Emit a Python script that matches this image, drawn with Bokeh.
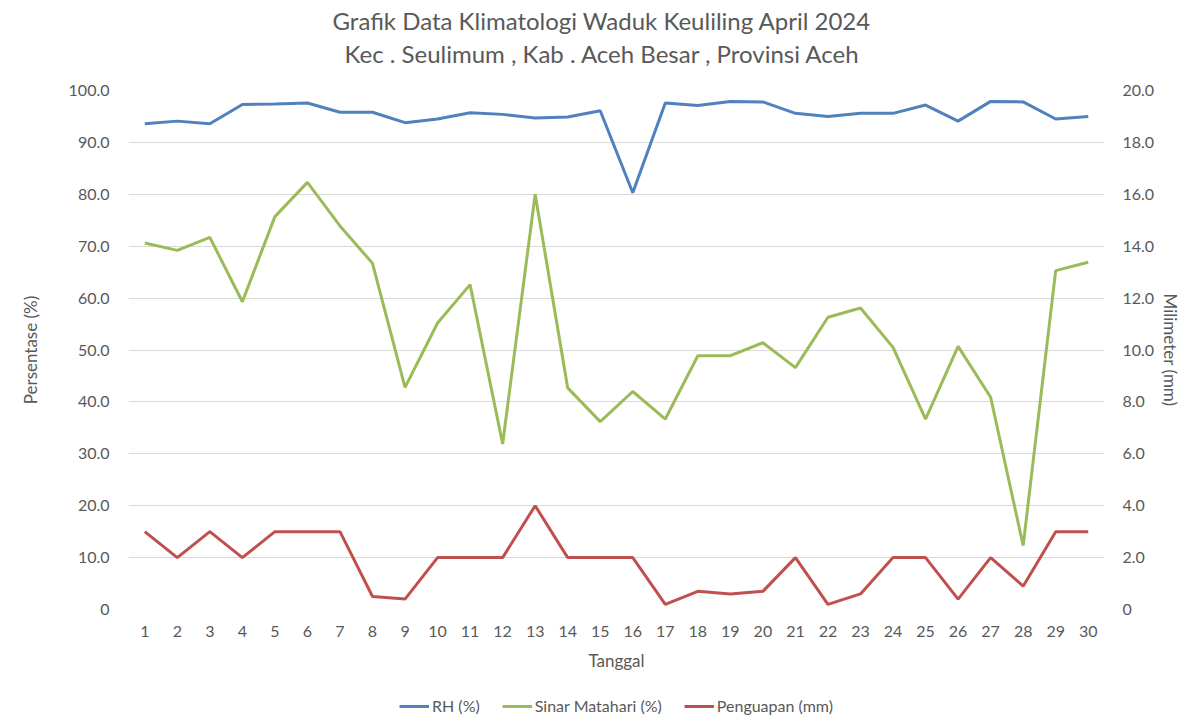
from bokeh.plotting import figure
from bokeh.layouts import column
from bokeh.models import (Range1d, LinearAxis, FixedTicker, CustomJSTickFormatter,
                          Title, Legend, LegendItem, ColumnDataSource)
from bokeh.embed import file_html
from bokeh.resources import INLINE

# ---- data ----
days = list(range(1, 31))
rh = [93.6, 94.1, 93.6, 97.3, 97.4, 97.6, 95.8, 95.8, 93.8, 94.5,
      95.7, 95.4, 94.7, 94.9, 96.1, 80.3, 97.6, 97.1, 97.9, 97.8,
      95.6, 95.0, 95.6, 95.6, 97.2, 94.1, 97.9, 97.8, 94.5, 95.0]
sinar = [70.6, 69.2, 71.7, 59.3, 75.7, 82.3, 73.9, 66.7, 42.8, 55.2,
         62.6, 31.9, 80.0, 42.7, 36.2, 42.0, 36.7, 48.9, 48.9, 51.4,
         46.6, 56.3, 58.1, 50.5, 36.7, 50.7, 40.9, 12.3, 65.3, 66.9]
penguapan = [3.0, 2.0, 3.0, 2.0, 3.0, 3.0, 3.0, 0.5, 0.4, 2.0,
             2.0, 2.0, 4.0, 2.0, 2.0, 2.0, 0.2, 0.7, 0.6, 0.7,
             2.0, 0.2, 0.6, 2.0, 2.0, 0.4, 2.0, 0.9, 3.0, 3.0]
left_ticks = [0, 10, 20, 30, 40, 50, 60, 70, 80, 90, 100]
right_ticks = [0, 2, 4, 6, 8, 10, 12, 14, 16, 18, 20]
title_line1 = "Grafik Data Klimatologi Waduk Keuliling April 2024"
title_line2 = "Kec . Seulimum , Kab . Aceh Besar , Provinsi  Aceh"
series_names = ["RH (%)", "Sinar Matahari (%)", "Penguapan (mm)"]

FONT = "Lato"
TXT = "#595959"
GRID = "#D9D9D9"
C_RH = "#4F81BD"
C_SI = "#9BBB59"
C_PE = "#C0504D"

src = ColumnDataSource(dict(day=days, rh=rh, sinar=sinar, pen=penguapan))

p = figure(width=1200, height=690, output_backend="svg", toolbar_location=None,
           x_range=Range1d(0.5, 30.5), y_range=Range1d(0, 100),
           min_border_left=128, min_border_right=96, min_border_top=90,
           min_border_bottom=81, background_fill_color="white",
           border_fill_color="white", outline_line_color=None)
p.extra_y_ranges = {"mm": Range1d(0, 20)}

fmt = CustomJSTickFormatter(code="return tick == 0 ? '0' : tick.toFixed(1);")

# x axis (bottom)
xa = p.xaxis[0]
xa.ticker = FixedTicker(ticks=days)
xa.axis_label = "Tanggal"
xa.axis_line_color = None
xa.major_tick_line_color = None
xa.minor_tick_line_color = None
xa.major_tick_out = 0
xa.major_tick_in = 0
xa.minor_tick_out = 0
xa.major_label_standoff = 16
xa.axis_label_standoff = 10
xa.major_label_text_font = FONT
xa.major_label_text_font_size = "16px"
xa.major_label_text_color = TXT
xa.axis_label_text_font = FONT
xa.axis_label_text_font_size = "17px"
xa.axis_label_text_font_style = "normal"
xa.axis_label_text_color = TXT

# left axis
ya = p.yaxis[0]
ya.ticker = FixedTicker(ticks=left_ticks)
ya.formatter = fmt
ya.axis_label = "Persentase (%)"

# right axis
ra = LinearAxis(y_range_name="mm", ticker=FixedTicker(ticks=right_ticks),
                formatter=fmt, axis_label="Milimeter (mm)")
p.add_layout(ra, "right")

for ax in (ya, ra):
    ax.axis_line_color = None
    ax.major_tick_line_color = None
    ax.minor_tick_line_color = None
    ax.major_tick_out = 0
    ax.major_tick_in = 0
    ax.minor_tick_out = 0
    ax.major_label_text_font = FONT
    ax.major_label_text_font_size = "16px"
    ax.major_label_text_color = TXT
    ax.axis_label_text_font = FONT
    ax.axis_label_text_font_size = "17px"
    ax.axis_label_text_font_style = "normal"
    ax.axis_label_text_color = TXT
ya.major_label_standoff = 19
ya.axis_label_standoff = 25
ra.major_label_standoff = 18
ra.axis_label_standoff = 3
ra.axis_label_orientation = "vertical"

# blank spacer axis between the titles and the plot area (white tick, no labels)
spacer = LinearAxis(ticker=FixedTicker(ticks=[15]),
                    formatter=CustomJSTickFormatter(code="return '';"),
                    axis_line_color=None, major_tick_line_color="white",
                    minor_tick_line_color=None, major_tick_out=22, major_tick_in=0,
                    minor_tick_out=0, minor_tick_in=0, major_label_standoff=0,
                    major_label_text_font_size="1px", axis_label_standoff=0)
p.add_layout(spacer, "above")

# titles
t2 = Title(text=title_line2, align="left", text_font=FONT, text_font_size="24px",
           text_font_style="normal", text_color=TXT, standoff=2, offset=216)
t1 = Title(text=title_line1, align="left", text_font=FONT, text_font_size="24px",
           text_font_style="normal", text_color=TXT, standoff=2, offset=204)
p.add_layout(t2, "above")
p.add_layout(t1, "above")

p.xgrid.grid_line_color = None
p.ygrid.grid_line_color = GRID
p.ygrid.grid_line_width = 1

p.line("day", "rh", source=src, line_color=C_RH, line_width=3)
p.line("day", "sinar", source=src, line_color=C_SI, line_width=3)
p.line("day", "pen", source=src, line_color=C_PE, line_width=3, y_range_name="mm")

# legend strip below the chart
lg = figure(width=1200, height=31, output_backend="svg", toolbar_location=None,
            x_range=Range1d(100, 101), y_range=Range1d(0, 1),
            x_axis_location=None, y_axis_location=None,
            min_border=0, min_border_left=0, min_border_right=0,
            min_border_top=0, min_border_bottom=0,
            background_fill_color="white", border_fill_color="white",
            outline_line_color=None)
lg.grid.visible = False
l1 = lg.line("day", "rh", source=src, line_color=C_RH, line_width=3)
l2 = lg.line("day", "sinar", source=src, line_color=C_SI, line_width=3)
l3 = lg.line("day", "pen", source=src, line_color=C_PE, line_width=3)

legend = Legend(items=[LegendItem(label=series_names[0], renderers=[l1]),
                       LegendItem(label=series_names[1], renderers=[l2]),
                       LegendItem(label=series_names[2], renderers=[l3])],
                orientation="horizontal", location="center",
                glyph_width=30, glyph_height=20, label_standoff=3, spacing=22,
                padding=0, margin=0, border_line_color=None,
                background_fill_alpha=0,
                label_text_font=FONT, label_text_font_size="16px",
                label_text_color=TXT)
lg.add_layout(legend, "center")

layout = column(p, lg, spacing=0)
open("out.html", "w").write(file_html(layout, INLINE))
